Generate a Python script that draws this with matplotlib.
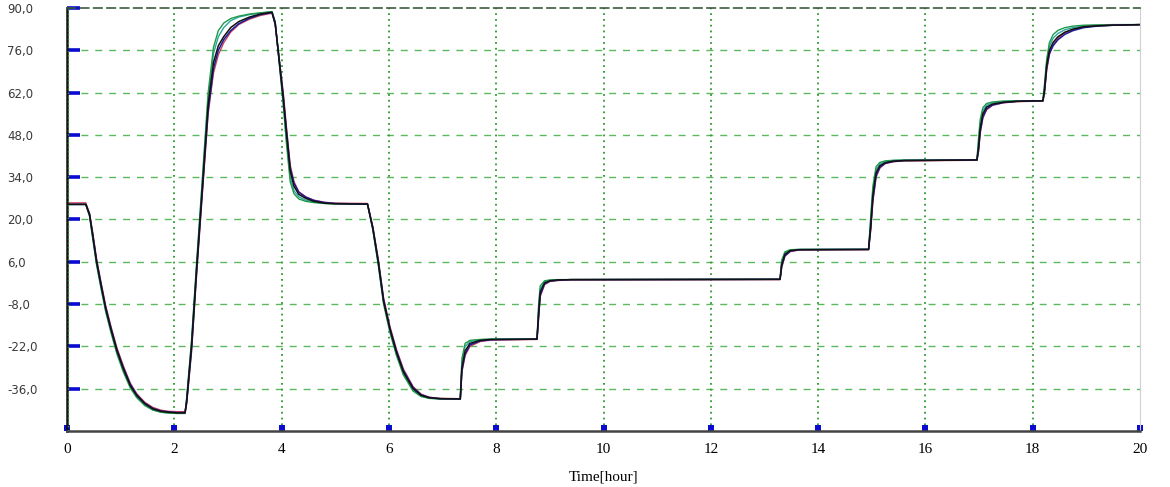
import numpy as np
import matplotlib
matplotlib.use("Agg")
import matplotlib.pyplot as plt

# time axis (hours), shared by all traces
t = [0, 0.35, 0.42, 0.48, 0.55, 0.63, 0.72, 0.82, 0.93, 1.05, 1.18, 1.30, 1.45, 1.6, 1.75, 1.9, 2.05, 2.2,
     2.23, 2.32, 2.42, 2.52, 2.63, 2.73, 2.82, 2.92, 3.05, 3.2, 3.4, 3.6, 3.82,
     3.88, 3.97, 4.03, 4.09, 4.16, 4.23, 4.32, 4.45, 4.6, 4.8, 5.0, 5.6,
     5.7, 5.8, 5.9, 6.02, 6.14, 6.27, 6.45, 6.6, 6.75, 6.95, 7.33,
     7.36, 7.42, 7.51, 7.7, 7.9, 8.76, 8.79, 8.82, 8.9, 9.0, 9.15, 9.4, 13.29,
     13.32, 13.38, 13.48, 13.65, 14.94, 14.98, 15.02, 15.08, 15.15, 15.25, 15.4, 15.6, 16.96,
     16.99, 17.02, 17.07, 17.14, 17.25, 17.45, 17.7, 18.19,
     18.22, 18.26, 18.31, 18.38, 18.47, 18.6, 18.75, 18.95, 19.2, 19.5, 20.0]

temp_black = [25, 25, 21.5, 14.5, 6, -1.5, -9.5, -16.5, -23.5, -29.5, -35, -38.3, -41, -42.7, -43.5, -43.8, -44, -44,
              -40, -22, 5, 30, 58, 72, 77.5, 80.5, 83.5, 85.5, 87, 88, 88.6,
              85, 70, 60, 48.5, 36, 31, 28.3, 27, 26, 25.4, 25.2, 25.1,
              17, 6, -7, -16.5, -24, -30.5, -36, -38.2, -39, -39.3, -39.4,
              -29, -23.5, -21, -20, -19.7, -19.6, -11, -4, -1, -0.3, 0, 0.1, 0.2,
              5, 8.5, 9.7, 10, 10.1, 18, 28, 35.5, 37.8, 38.8, 39.3, 39.5, 39.7,
              44, 50, 55, 57.2, 58.2, 58.8, 59.1, 59.3,
              63, 71, 76, 78.6, 80.5, 82, 83, 83.8, 84.1, 84.3, 84.5]

temp_green = [25, 25, 21, 13.5, 5, -2.5, -10.5, -17.5, -24.5, -30.5, -35.8, -39, -41.6, -43.1, -43.8, -44.1, -44.2, -44.2,
              -39, -20, 7, 33, 62, 77, 82.5, 85, 86.5, 87.3, 88, 88.4, 88.8,
              85.5, 69, 58, 45, 32.5, 28.5, 26.8, 26, 25.6, 25.3, 25.2, 25.1,
              16.5, 5, -8, -17.5, -25, -31.5, -36.8, -38.6, -39.2, -39.4, -39.5,
              -26, -21, -20, -19.7, -19.6, -19.6, -8, -2, -0.3, 0, 0.1, 0.1, 0.2,
              6.5, 9.3, 10, 10.1, 10.1, 21, 31, 37.5, 38.9, 39.4, 39.6, 39.7, 39.7,
              47, 53, 57, 58.4, 58.9, 59.2, 59.3, 59.3,
              65, 73, 78.5, 81.2, 82.6, 83.5, 84, 84.3, 84.4, 84.5, 84.5]

temp_teal = [25, 25, 21.3, 14, 5.5, -2, -10, -17, -24, -30, -35.4, -38.6, -41.3, -42.9, -43.7, -44, -44.1, -44.1,
             -39.5, -21, 6, 32, 60, 75, 80.5, 83.5, 85.8, 87, 87.8, 88.3, 88.7,
             85.2, 69.5, 59, 46.5, 34, 29.5, 27.5, 26.4, 25.8, 25.3, 25.2, 25.1,
             16.8, 5.5, -7.5, -17, -24.5, -31, -36.4, -38.4, -39.1, -39.4, -39.4,
             -27, -22, -20.4, -19.8, -19.6, -19.6, -9.5, -3, -0.6, -0.1, 0, 0.1, 0.2,
             5.8, 9, 9.9, 10.1, 10.1, 19.5, 29.5, 36.5, 38.4, 39.1, 39.5, 39.6, 39.7,
             45.5, 51.5, 56, 57.8, 58.6, 59, 59.2, 59.3,
             64, 72, 77.3, 80, 81.6, 82.8, 83.5, 84, 84.3, 84.4, 84.5]

temp_blue = [25, 25, 21.8, 15, 6.5, -1, -9, -16, -23, -29, -34.6, -38, -40.8, -42.5, -43.4, -43.7, -43.9, -43.9,
             -40.5, -23, 4, 29, 56, 70, 76, 79.5, 82.5, 84.8, 86.6, 87.8, 88.5,
             84.5, 70.5, 61, 49.5, 37, 32, 29, 27.4, 26.3, 25.6, 25.3, 25.1,
             17.3, 6.5, -6.5, -16, -23.5, -30, -35.6, -38, -38.9, -39.3, -39.4,
             -30, -24.5, -21.5, -20.2, -19.8, -19.6, -12, -5, -1.3, -0.4, -0.1, 0.1, 0.2,
             4.5, 8, 9.5, 10, 10.1, 17, 26.5, 34.5, 37.3, 38.6, 39.2, 39.5, 39.7,
             43, 49, 54, 56.6, 57.9, 58.7, 59.1, 59.3,
             62.5, 70, 75, 77.5, 79.5, 81.3, 82.5, 83.5, 84, 84.3, 84.5]

temp_red = [25.5, 25.5, 22, 15.5, 7, -0.5, -8.5, -15.5, -22.5, -28.5, -34.2, -37.7, -40.5, -42.2, -43.1, -43.5, -43.6, -43.6,
            -41, -24, 3, 28, 55, 68.5, 74.5, 78.5, 82, 84.5, 86.3, 87.5, 88.3,
            84.8, 71, 62, 50.5, 38, 32.5, 29.2, 27.5, 26.4, 25.7, 25.4, 25.3,
            17.6, 7, -6, -15.5, -23, -29.5, -35.3, -37.8, -38.8, -39.2, -39.3,
            -30.5, -25, -22, -20.4, -19.9, -19.7, -12.5, -5.5, -1.6, -0.5, -0.2, 0, 0.1,
            4, 7.8, 9.4, 9.9, 10, 16.5, 26, 34, 37, 38.5, 39.1, 39.4, 39.6,
            42.5, 48.5, 53.5, 56.3, 57.8, 58.6, 59, 59.2,
            62, 69.5, 74.5, 77.8, 80, 81.8, 82.9, 83.7, 84.1, 84.3, 84.4]

yticks = [90, 76, 62, 48, 34, 20, 6, -8, -22, -36]
xticks = [0, 2, 4, 6, 8, 10, 12, 14, 16, 18, 20]

fig = plt.figure(figsize=(11.7, 4.87), dpi=100)
ax = fig.add_axes([0.0573, 0.115, 0.9171, 0.8686])

ax.plot(t, temp_teal, color="#2aa8a0", lw=1.0)
ax.plot(t, temp_green, color="#1f9a4a", lw=1.0)
ax.plot(t, temp_red, color="#d0405a", lw=1.0)
ax.plot(t, temp_blue, color="#1c1c9c", lw=1.1)
ax.plot(t, temp_black, color="#111111", lw=1.1)

ax.set_xlim(0, 20)
ax.set_ylim(-50, 90)

# grid: dashed horizontal, dotted vertical
for y in yticks[1:]:
    ax.axhline(y, color="#5cb85c", lw=1.0, ls=(0, (5, 5)), zorder=0)
for x in xticks[1:-1]:
    ax.axvline(x, color="#2e9a2e", lw=1.3, ls=(0, (1, 2.2)), zorder=0)

ax.spines["top"].set_color("#3a5a3a")
ax.spines["top"].set_linestyle((0, (5, 3)))
ax.spines["top"].set_linewidth(1.2)
ax.spines["right"].set_color("#d0d0d0")
ax.spines["right"].set_linewidth(0.8)
ax.spines["left"].set_color("#111111")
ax.spines["left"].set_linewidth(1.8)
ax.spines["bottom"].set_color("#444444")
ax.spines["bottom"].set_linewidth(1.8)
ax.axvline(0.02, color="#2e9a2e", lw=1.0, ls=(0, (1, 2)), zorder=3)

ax.set_yticks(yticks)
ax.set_yticklabels([f"{v:.1f}".replace(".", ",") for v in yticks])
ax.tick_params(axis="y", direction="in", length=9.5, width=2.6, color="#0a0ad0",
               pad=43, labelsize=8.5, labelcolor="#3a3a3a")
for lab in ax.get_yticklabels():
    lab.set_horizontalalignment("left")

ax.set_xticks(xticks)
ax.set_xticklabels([str(v) for v in xticks], family="Liberation Serif", fontsize=11)
ax.tick_params(axis="x", direction="in", length=4, width=4.3, color="#0a0ad0", pad=9)

ax.set_xlabel("Time[hour]", family="Liberation Serif", fontsize=11, labelpad=10)

fig.savefig("out.png", dpi=100)
